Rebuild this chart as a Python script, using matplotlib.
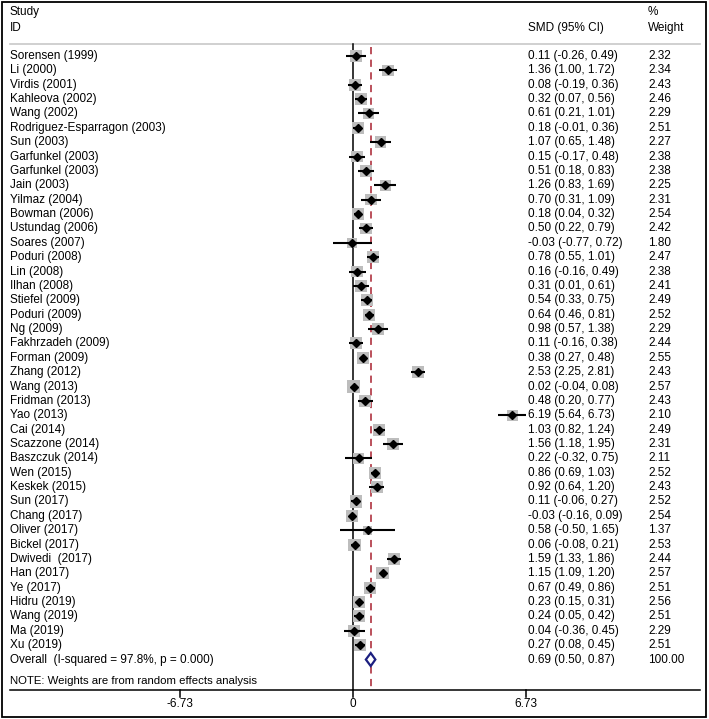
import matplotlib
matplotlib.use("Agg")
import matplotlib.pyplot as plt
from matplotlib.patches import Rectangle, Polygon

studies = ["Sorensen (1999)", "Li (2000)", "Virdis (2001)", "Kahleova (2002)", "Wang (2002)",
           "Rodriguez-Esparragon (2003)", "Sun (2003)", "Garfunkel (2003)", "Garfunkel (2003)",
           "Jain (2003)", "Yilmaz (2004)", "Bowman (2006)", "Ustundag (2006)", "Soares (2007)",
           "Poduri (2008)", "Lin (2008)", "Ilhan (2008)", "Stiefel (2009)", "Poduri (2009)",
           "Ng (2009)", "Fakhrzadeh (2009)", "Forman (2009)", "Zhang (2012)", "Wang (2013)",
           "Fridman (2013)", "Yao (2013)", "Cai (2014)", "Scazzone (2014)", "Baszczuk (2014)",
           "Wen (2015)", "Keskek (2015)", "Sun (2017)", "Chang (2017)", "Oliver (2017)",
           "Bickel (2017)", "Dwivedi  (2017)", "Han (2017)", "Ye (2017)", "Hidru (2019)",
           "Wang (2019)", "Ma (2019)", "Xu (2019)"]
smd = [0.11, 1.36, 0.08, 0.32, 0.61, 0.18, 1.07, 0.15, 0.51, 1.26, 0.70, 0.18, 0.50, -0.03,
       0.78, 0.16, 0.31, 0.54, 0.64, 0.98, 0.11, 0.38, 2.53, 0.02, 0.48, 6.19, 1.03, 1.56,
       0.22, 0.86, 0.92, 0.11, -0.03, 0.58, 0.06, 1.59, 1.15, 0.67, 0.23, 0.24, 0.04, 0.27]
lo = [-0.26, 1.00, -0.19, 0.07, 0.21, -0.01, 0.65, -0.17, 0.18, 0.83, 0.31, 0.04, 0.22, -0.77,
      0.55, -0.16, 0.01, 0.33, 0.46, 0.57, -0.16, 0.27, 2.25, -0.04, 0.20, 5.64, 0.82, 1.18,
      -0.32, 0.69, 0.64, -0.06, -0.16, -0.50, -0.08, 1.33, 1.09, 0.49, 0.15, 0.05, -0.36, 0.08]
hi = [0.49, 1.72, 0.36, 0.56, 1.01, 0.36, 1.48, 0.48, 0.83, 1.69, 1.09, 0.32, 0.79, 0.72,
      1.01, 0.49, 0.61, 0.75, 0.81, 1.38, 0.38, 0.48, 2.81, 0.08, 0.77, 6.73, 1.24, 1.95,
      0.75, 1.03, 1.20, 0.27, 0.09, 1.65, 0.21, 1.86, 1.20, 0.86, 0.31, 0.42, 0.45, 0.45]
weight = [2.32, 2.34, 2.43, 2.46, 2.29, 2.51, 2.27, 2.38, 2.38, 2.25, 2.31, 2.54, 2.42, 1.80,
          2.47, 2.38, 2.41, 2.49, 2.52, 2.29, 2.44, 2.55, 2.43, 2.57, 2.43, 2.10, 2.49, 2.31,
          2.11, 2.52, 2.43, 2.52, 2.54, 1.37, 2.53, 2.44, 2.57, 2.51, 2.56, 2.51, 2.29, 2.51]
overall_label = "Overall  (I-squared = 97.8%, p = 0.000)"
overall_smd, overall_lo, overall_hi, overall_w = 0.69, 0.50, 0.87, 100.00
xticks = [-6.73, 0, 6.73]
note = "NOTE: Weights are from random effects analysis"

W, H = 709, 719
ppu = 173 / 6.73
x0 = 353
fig = plt.figure(figsize=(W / 100, H / 100), dpi=100)
ax = fig.add_axes([0, 0, 1, 1])
ax.set_xlim(-x0 / ppu, (W - x0) / ppu)
ax.set_ylim(H, 0)
ax.axis('off')

plt.rcParams['font.family'] = ['Liberation Sans', 'DejaVu Sans']
fs = 8.5
tr = ax.get_yaxis_transform()
xs_lab, xs_ci, xs_w = 10 / W, 528 / W, 648 / W

row0, dy = 56, 14.37
ys = [row0 + i * dy for i in range(len(studies))]
y_ov = row0 + len(studies) * dy
y_top, y_axis = 44, 690

# header
ax.text(xs_lab, 12, "Study", transform=tr, fontsize=fs, va='center')
ax.text(xs_lab, 28, "ID", transform=tr, fontsize=fs, va='center')
ax.text(xs_ci, 28, "SMD (95% CI)", transform=tr, fontsize=fs, va='center')
ax.text(xs_w, 12, "%", transform=tr, fontsize=fs, va='center')
ax.text(xs_w, 28, "Weight", transform=tr, fontsize=fs, va='center')
ax.axhline(y_top, xmin=10 / W, xmax=700 / W, color='#c8c8c8', lw=1.2)

# reference lines
ax.plot([0, 0], [y_top, y_axis], color='black', lw=1.1, zorder=2)
ax.plot([overall_smd, overall_smd], [y_top + 3, y_axis], color='#b5424e', lw=1.3,
        dashes=(4, 3), zorder=2)

# studies
ax.scatter(smd, ys, s=[30 * w for w in weight], marker='s', color='#bdbdbd',
           edgecolors='none', zorder=3)
for y, e, a, b in zip(ys, smd, lo, hi):
    ax.plot([a, b], [y, y], color='black', lw=1.5, zorder=4, solid_capstyle='butt')
ax.plot(smd, ys, 'D', color='black', ms=4, zorder=5, linestyle='none')

for y, name, e, a, b, w in zip(ys, studies, smd, lo, hi, weight):
    ax.text(xs_lab, y, name, transform=tr, fontsize=fs, va='center')
    ax.text(xs_ci, y, f"{e:.2f} ({a:.2f}, {b:.2f})", transform=tr, fontsize=fs, va='center')
    ax.text(xs_w, y, f"{w:.2f}", transform=tr, fontsize=fs, va='center')

# overall
hd = 6.5
dia = Polygon([(overall_lo, y_ov), (overall_smd, y_ov - hd), (overall_hi, y_ov),
               (overall_smd, y_ov + hd)], closed=True, facecolor='white',
              edgecolor='#1c1f80', lw=1.6, zorder=6)
ax.add_patch(dia)
ax.text(xs_lab, y_ov, overall_label, transform=tr, fontsize=fs, va='center')
ax.text(xs_ci, y_ov, f"{overall_smd:.2f} ({overall_lo:.2f}, {overall_hi:.2f})",
        transform=tr, fontsize=fs, va='center')
ax.text(xs_w, y_ov, f"{overall_w:.2f}", transform=tr, fontsize=fs, va='center')

ax.text(xs_lab, 681, note, transform=tr, fontsize=fs - 0.3, va='center')

# axis
ax.axhline(y_axis, xmin=10 / W, xmax=700 / W, color='black', lw=1.1)
for t in xticks:
    ax.plot([t, t], [y_axis, y_axis + 7], color='black', lw=1.1)
    ax.text(t, 704, f"{t:g}" if t == 0 else f"{t:.2f}", ha='center', va='center', fontsize=fs)

fig.patches.append(Rectangle((1.5 / W, 2 / H), (705.5 - 1.5) / W, (717 - 2) / H,
                             transform=fig.transFigure, fill=False, edgecolor='black', lw=1.3))

fig.savefig("out.png", dpi=100)
